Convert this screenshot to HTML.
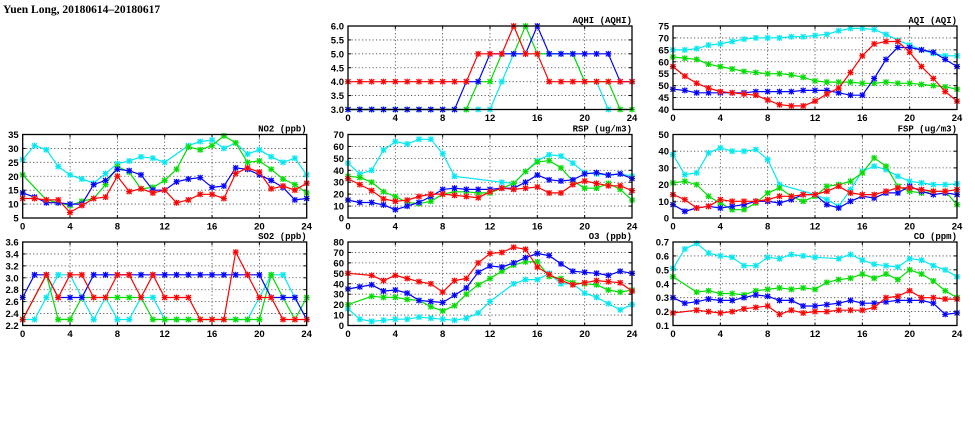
<!DOCTYPE html>
<html><head><meta charset="utf-8"><style>
html,body{margin:0;padding:0;background:#fff;}
svg{display:block;}
text{font-family:"Liberation Sans",sans-serif;font-weight:bold;fill:#000;}
.t{font-size:9.5px;}
.yl{font-size:9.5px;text-anchor:end;}
.xl{font-size:9.5px;text-anchor:middle;}
.ti{font-size:9px;text-anchor:end;font-family:"Liberation Mono",monospace;}
</style></head><body>
<svg id="s" width="975" height="447" viewBox="0 0 975 447" xmlns="http://www.w3.org/2000/svg">
<text x="3" y="13" style="font-family:'Liberation Serif',serif;font-size:11.5px;font-weight:bold">Yuen Long, 20180614–20180617</text>

<g id="p_aqhi" transform="translate(348,26)">
<text class="ti" x="284" y="-3">AQHI (AQHI)</text>
<text class="yl" x="-4" y="87">3.0</text><text class="yl" x="-4" y="73.1">3.5</text><text class="yl" x="-4" y="59.2">4.0</text><text class="yl" x="-4" y="45.3">4.5</text><text class="yl" x="-4" y="31.3">5.0</text><text class="yl" x="-4" y="17.4">5.5</text><text class="yl" x="-4" y="3.5">6.0</text>
<text class="xl" x="0" y="95">0</text><text class="xl" x="47.3" y="95">4</text><text class="xl" x="94.7" y="95">8</text><text class="xl" x="142" y="95">12</text><text class="xl" x="189.3" y="95">16</text><text class="xl" x="236.7" y="95">20</text><text class="xl" x="284" y="95">24</text>
</g>
<g id="p_aqi" transform="translate(673,26)">
<text class="ti" x="284" y="-3">AQI (AQI)</text>
<text class="yl" x="-4" y="87">40</text><text class="yl" x="-4" y="75.1">45</text><text class="yl" x="-4" y="63.1">50</text><text class="yl" x="-4" y="51.2">55</text><text class="yl" x="-4" y="39.3">60</text><text class="yl" x="-4" y="27.4">65</text><text class="yl" x="-4" y="15.4">70</text><text class="yl" x="-4" y="3.5">75</text>
<text class="xl" x="0" y="95">0</text><text class="xl" x="47.3" y="95">4</text><text class="xl" x="94.7" y="95">8</text><text class="xl" x="142" y="95">12</text><text class="xl" x="189.3" y="95">16</text><text class="xl" x="236.7" y="95">20</text><text class="xl" x="284" y="95">24</text>
</g>
<g id="p_no2" transform="translate(22.7,134.5)">
<text class="ti" x="284" y="-3">NO2 (ppb)</text>
<text class="yl" x="-4" y="87">5</text><text class="yl" x="-4" y="73.1">10</text><text class="yl" x="-4" y="59.2">15</text><text class="yl" x="-4" y="45.3">20</text><text class="yl" x="-4" y="31.3">25</text><text class="yl" x="-4" y="17.4">30</text><text class="yl" x="-4" y="3.5">35</text>
<text class="xl" x="0" y="95">0</text><text class="xl" x="47.3" y="95">4</text><text class="xl" x="94.7" y="95">8</text><text class="xl" x="142" y="95">12</text><text class="xl" x="189.3" y="95">16</text><text class="xl" x="236.7" y="95">20</text><text class="xl" x="284" y="95">24</text>
</g>
<g id="p_rsp" transform="translate(348,134.5)">
<text class="ti" x="284" y="-3">RSP (ug/m3)</text>
<text class="yl" x="-4" y="87">0</text><text class="yl" x="-4" y="75.1">10</text><text class="yl" x="-4" y="63.1">20</text><text class="yl" x="-4" y="51.2">30</text><text class="yl" x="-4" y="39.3">40</text><text class="yl" x="-4" y="27.4">50</text><text class="yl" x="-4" y="15.4">60</text><text class="yl" x="-4" y="3.5">70</text>
<text class="xl" x="0" y="95">0</text><text class="xl" x="47.3" y="95">4</text><text class="xl" x="94.7" y="95">8</text><text class="xl" x="142" y="95">12</text><text class="xl" x="189.3" y="95">16</text><text class="xl" x="236.7" y="95">20</text><text class="xl" x="284" y="95">24</text>
</g>
<g id="p_fsp" transform="translate(673,134.5)">
<text class="ti" x="284" y="-3">FSP (ug/m3)</text>
<text class="yl" x="-4" y="87">0</text><text class="yl" x="-4" y="70.3">10</text><text class="yl" x="-4" y="53.6">20</text><text class="yl" x="-4" y="36.9">30</text><text class="yl" x="-4" y="20.2">40</text><text class="yl" x="-4" y="3.5">50</text>
<text class="xl" x="0" y="95">0</text><text class="xl" x="47.3" y="95">4</text><text class="xl" x="94.7" y="95">8</text><text class="xl" x="142" y="95">12</text><text class="xl" x="189.3" y="95">16</text><text class="xl" x="236.7" y="95">20</text><text class="xl" x="284" y="95">24</text>
</g>
<g id="p_so2" transform="translate(22.7,242)">
<text class="ti" x="284" y="-3">SO2 (ppb)</text>
<text class="yl" x="-4" y="87">2.2</text><text class="yl" x="-4" y="75.1">2.4</text><text class="yl" x="-4" y="63.1">2.6</text><text class="yl" x="-4" y="51.2">2.8</text><text class="yl" x="-4" y="39.3">3.0</text><text class="yl" x="-4" y="27.4">3.2</text><text class="yl" x="-4" y="15.4">3.4</text><text class="yl" x="-4" y="3.5">3.6</text>
<text class="xl" x="0" y="95">0</text><text class="xl" x="47.3" y="95">4</text><text class="xl" x="94.7" y="95">8</text><text class="xl" x="142" y="95">12</text><text class="xl" x="189.3" y="95">16</text><text class="xl" x="236.7" y="95">20</text><text class="xl" x="284" y="95">24</text>
</g>
<g id="p_o3" transform="translate(348,242)">
<text class="ti" x="284" y="-3">O3 (ppb)</text>
<text class="yl" x="-4" y="87">0</text><text class="yl" x="-4" y="76.6">10</text><text class="yl" x="-4" y="66.1">20</text><text class="yl" x="-4" y="55.7">30</text><text class="yl" x="-4" y="45.3">40</text><text class="yl" x="-4" y="34.8">50</text><text class="yl" x="-4" y="24.4">60</text><text class="yl" x="-4" y="13.9">70</text><text class="yl" x="-4" y="3.5">80</text>
<text class="xl" x="0" y="95">0</text><text class="xl" x="47.3" y="95">4</text><text class="xl" x="94.7" y="95">8</text><text class="xl" x="142" y="95">12</text><text class="xl" x="189.3" y="95">16</text><text class="xl" x="236.7" y="95">20</text><text class="xl" x="284" y="95">24</text>
</g>
<g id="p_co" transform="translate(673,242)">
<text class="ti" x="284" y="-3">CO (ppm)</text>
<text class="yl" x="-4" y="87">0.1</text><text class="yl" x="-4" y="73.1">0.2</text><text class="yl" x="-4" y="59.2">0.3</text><text class="yl" x="-4" y="45.3">0.4</text><text class="yl" x="-4" y="31.3">0.5</text><text class="yl" x="-4" y="17.4">0.6</text><text class="yl" x="-4" y="3.5">0.7</text>
<text class="xl" x="0" y="95">0</text><text class="xl" x="47.3" y="95">4</text><text class="xl" x="94.7" y="95">8</text><text class="xl" x="142" y="95">12</text><text class="xl" x="189.3" y="95">16</text><text class="xl" x="236.7" y="95">20</text><text class="xl" x="284" y="95">24</text>
</g>
</svg>
<script>
var N=null;
var P={
aqhi:{r:[3,6],n:6,d:{
c:[3,3,3,3,3,3,3,3,3,3,3,3,3,4,5,5,5,5,5,5,4,4,3,N,N],
g:[3,3,3,3,3,3,3,3,3,3,3,4,4,5,5,6,5,5,5,5,4,4,4,3,3],
b:[3,3,3,3,3,3,3,3,3,3,4,4,5,5,5,5,6,5,5,5,5,5,5,4,4],
r:[4,4,4,4,4,4,4,4,4,4,4,5,5,5,6,5,5,4,4,4,4,4,4,4,4]}},
aqi:{r:[40,75],n:7,d:{
c:[65,65,65.5,67,67.5,68.5,69.5,70,70,70,70.5,70.5,71,71.5,73,74,74,73.5,71.5,69,67,65,63.5,62.5,62.5],
g:[62,61.5,61,59,58,57,56,55.5,55,55,54.5,53.5,52,51.5,51.5,51.5,51,51,51.5,51,51,50.5,50,49.5,48.5],
b:[48.5,48,47,47,47,47,47,47.5,47.5,47.5,47.5,48,48,48,47,46,46,53,61,66,66,65,64,61,58],
r:[58,54,51,49,47.5,47,46.5,46,44,42,41.5,41.5,43.5,46.5,49,55.5,62.5,67.5,68.5,68.5,64,58,53,47.5,43.5]}},
no2:{r:[5,35],n:6,d:{
c:[26,31,29.5,23.5,20.5,19,17.5,21,24.5,25.5,27,26.5,25,N,31,32.5,33,30,32,28,29.5,27,25,26.5,20.5],
g:[20.5,N,11.5,10.5,9.5,11,12,17,23.5,21.5,15.5,16,18.5,22.5,30.5,29.5,31,34.5,32,25,25.5,22.5,19,17,14],
b:[14,12.5,10.5,10.5,10,10,17,18.5,22.5,22,20.5,15,15,18,19,19.5,16,16.5,23,22.5,20.5,18.5,16,11.5,12],
r:[12,12,11.5,11.5,7,9.5,12,12.5,20,14.5,15.5,14,15,10.5,11.5,13.5,13.5,12,21,23,21.5,15.5,16.5,15,17.5]}},
rsp:{r:[0,70],n:7,d:{
c:[46,37,40,57,64,62,66,66,54,35,N,N,N,30,29,39,48,53,52,46,38,37,36,37,35],
g:[35,34,30,22,18,13,12,14,20,22,22,21,21,25,29,39,47,48,42,31,25,25,29,24,15],
b:[15,13,13,11,7,10,13,18,24,25,24,24,24,25,25,30,36,32,31,32,37,38,36,37,33],
r:[33,28,23,16,14,15,18,20,20,19,18,17,22,25,24,25,26,21,21,28,31,29,27,27,23]}},
fsp:{r:[0,50],n:5,d:{
c:[38,26,27,39,42,40,40,41,35,20,N,N,14,11,7,17,28,31,29,25,22,21,20,20,20.5],
g:[21,22,20,13,9,5,5,9,15,18,13,10,13,19,20,22,27,36,31,19,16,15,16,16,8],
b:[8,4,6,7,6,7,8,10,10,9,11,14,14,8,6,10,13,12,15,15,19,16,14,15,14],
r:[14,11,6,7,11,10,10,10,11,13,13,14,14,16,19,15,14,14,16,18,18,17,16,16,17]}},
so2:{r:[2.2,3.6],n:7,d:{
c:[2.3,2.3,2.67,3.05,3.05,2.67,2.3,2.67,2.3,2.3,2.67,2.67,2.3,2.3,2.3,2.3,2.3,2.3,2.3,2.3,2.67,3.05,3.05,2.67,2.3],
g:[2.3,N,3.05,2.3,2.3,2.67,2.67,2.67,2.67,2.67,2.67,2.3,2.3,2.3,2.3,2.3,2.3,2.3,2.3,2.3,2.3,3.05,2.67,2.3,2.67],
b:[2.67,3.05,3.05,2.67,2.67,2.67,3.05,3.05,3.05,3.05,3.05,3.05,3.05,3.05,3.05,3.05,3.05,3.05,3.05,3.05,3.05,2.67,2.67,2.67,2.3],
r:[2.3,N,3.05,2.67,3.05,3.05,2.67,2.67,3.05,3.05,2.67,3.05,2.67,2.67,2.67,2.3,2.3,2.3,3.43,3.05,2.67,2.67,2.3,2.3,2.3]}},
o3:{r:[0,80],n:8,d:{
c:[16,6,4,5,6,6,8,7,6,5,7,12,23,N,40,44,44,50,40,40,31,27,21,15,20],
g:[20,N,28,27,27,25,24,18,14,19,30,39,45,52,58,61,61,47,45,41,40,39,34,32,34],
b:[35,37,39,33,34,31,24,23,22,29,36,51,57,56,60,65,69,67,59,52,51,50,48,52,50],
r:[50,N,48,43,48,45,42,40,32,43,45,60,69,70,75,73,56,49,43,39,41,43,42,41,33]}},
co:{r:[0.1,0.7],n:6,d:{
c:[0.51,0.65,0.69,0.62,0.60,0.59,0.53,0.53,0.59,0.58,0.61,0.60,0.59,N,0.58,0.61,0.57,0.54,0.53,0.52,0.58,0.57,0.53,0.50,0.45],
g:[0.45,N,0.34,0.35,0.33,0.33,0.32,0.35,0.36,0.37,0.36,0.37,0.36,0.41,0.43,0.44,0.47,0.44,0.47,0.43,0.50,0.47,0.42,0.35,0.30],
b:[0.30,0.26,0.27,0.29,0.28,0.28,0.30,0.32,0.31,0.28,0.28,0.24,0.24,0.25,0.26,0.28,0.26,0.26,0.27,0.28,0.28,0.28,0.26,0.18,0.19],
r:[0.19,N,0.21,0.20,0.19,0.20,0.22,0.23,0.24,0.18,0.21,0.19,0.20,0.20,0.21,0.21,0.21,0.23,0.30,0.31,0.35,0.30,0.30,0.29,0.29]}}
};
var COL={c:'#00e8f0',g:'#00dd00',b:'#0000ff',r:'#ff0000'};
var LC={c:'#a0f4f8',g:'#a0eea0',b:'#a0a0ff',r:'#ff9a9a'};
var NS='http://www.w3.org/2000/svg',W=284,H=83.5;
function el(g,t,a){var e=document.createElementNS(NS,t);for(var k in a)e.setAttribute(k,a[k]);g.insertBefore(e,g.firstChild&&t!=='rect_top'?null:null);g.appendChild(e);return e;}
for(var id in P){var p=P[id],g=document.getElementById('p_'+id);
 var gg=document.createElementNS(NS,'g');g.insertBefore(gg,g.firstChild);
 for(var i=1;i<p.n;i++){var y=H*i/p.n;el(gg,'line',{x1:0,x2:W,y1:y,y2:y,stroke:'#444','stroke-width':0.8,'stroke-dasharray':'1.2,2.3'});}
 for(var k=1;k<6;k++){var x=W*k/6;el(gg,'line',{x1:x,x2:x,y1:0,y2:H,stroke:'#444','stroke-width':0.8,'stroke-dasharray':'1.2,2.3'});}
 for(var k=1;k<6;k++){var x=W*k/6;el(gg,'line',{x1:x,x2:x,y1:0,y2:3,stroke:'#000','stroke-width':1});el(gg,'line',{x1:x,x2:x,y1:H-3,y2:H,stroke:'#000','stroke-width':1});}
 for(var i=1;i<p.n;i++){var y=H*i/p.n;el(gg,'line',{x1:0,x2:3,y1:y,y2:y,stroke:'#000'});el(gg,'line',{x1:W-3,x2:W,y1:y,y2:y,stroke:'#000'});}
 var cp='cp'+id;var d=el(gg,'clipPath',{id:cp});el(d,'rect',{x:-3,y:-3,width:W+6,height:H+6});
 var sg=el(gg,'g',{'clip-path':'url(#'+cp+')'});
 ['c','g','b','r'].forEach(function(s){var a=p.d[s],pts=[];
  for(var j=0;j<a.length;j++){if(a[j]===null)continue;var x=W*j/24,y=H*(1-(a[j]-p.r[0])/(p.r[1]-p.r[0]));pts.push([x,y]);}
  el(sg,'polyline',{points:pts.map(function(q){return q[0].toFixed(1)+','+q[1].toFixed(1)}).join(' '),fill:'none',stroke:COL[s],'stroke-width':1.2});
  pts.forEach(function(q){var x=q[0],y=q[1];
   el(sg,'rect',{x:x-2.5,y:y-2.5,width:5,height:5,fill:LC[s],opacity:0.8});
   el(sg,'path',{d:'M'+(x-2.5)+' '+(y-2.5)+'L'+(x+2.5)+' '+(y+2.5)+'M'+(x-2.5)+' '+(y+2.5)+'L'+(x+2.5)+' '+(y-2.5)+'M'+(x-3)+' '+y+'L'+(x+3)+' '+y+'M'+x+' '+(y-3)+'L'+x+' '+(y+3),stroke:COL[s],'stroke-width':1.1});
  });
 });
 el(gg,'rect',{x:0,y:0,width:W,height:H,fill:'none',stroke:'#000','stroke-width':1.3});
}
</script>
</body></html>
